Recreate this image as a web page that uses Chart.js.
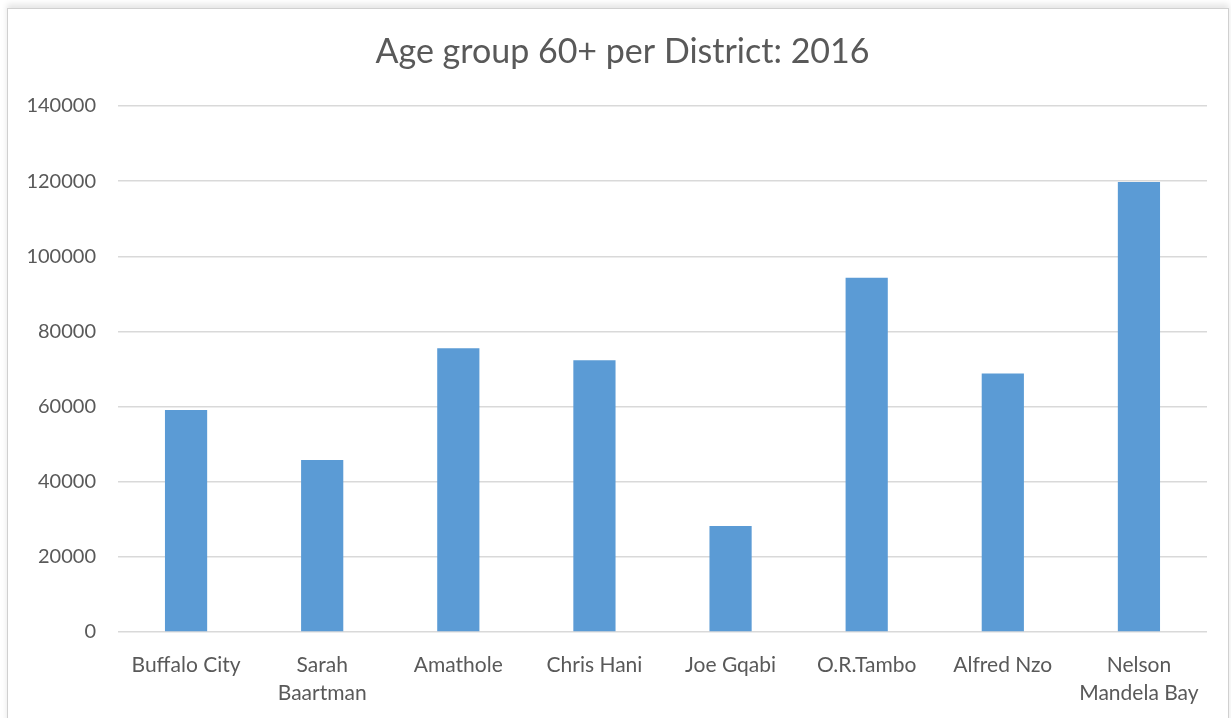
<!DOCTYPE html>
<html>
<head>
<meta charset="utf-8">
<script src="https://cdn.jsdelivr.net/npm/chart.js@4/dist/chart.umd.min.js"></script>
<style>
  html, body { margin: 0; padding: 0; background: #fff; }
  body { width: 1231px; height: 718px; position: relative; overflow: hidden; }
  .frame {
    position: absolute; left: 7px; top: 8px; width: 1220px; height: 720px;
    border: 1px solid #d0d0d0; box-shadow: 0 -4px 6px #e6e6e6;
  }
  #chart { position: absolute; left: 0; top: 0; }
</style>
</head>
<body>
<div class="frame"></div>
<canvas id="chart" width="1231" height="718"></canvas>
<script>
const districts = [
  "Buffalo City", ["Sarah", "Baartman"], "Amathole", "Chris Hani",
  "Joe Gqabi", "O.R.Tambo", "Alfred Nzo", ["Nelson", "Mandela Bay"]
];
const population60plus = [59100, 45800, 75500, 72300, 28200, 94300, 68800, 119800];
const yTicks = [0, 20000, 40000, 60000, 80000, 100000, 120000, 140000];

const chartTitle = "Age group 60+ per District: 2016";
const textColor = "#595959";
const fontFamily = "Lato, 'Open Sans', sans-serif";

// title sits centred on the framed box, which is a little right of the canvas centre
const boxTitle = {
  id: "boxTitle",
  afterDraw(chart, args, opts) {
    const { ctx } = chart;
    ctx.save();
    ctx.font = `normal ${opts.size}px ${fontFamily}`;
    ctx.fillStyle = textColor;
    ctx.textAlign = "center";
    ctx.textBaseline = "middle";
    ctx.fillText(opts.text, chart.width / 2 + opts.shift, opts.middle);
    ctx.restore();
  },
};

new Chart(document.getElementById("chart"), {
  type: "bar",
  plugins: [boxTitle],
  data: {
    labels: districts,
    datasets: [{
      data: population60plus,
      backgroundColor: "#5B9BD5",
      borderWidth: 0,
      categoryPercentage: 1,
      barPercentage: 0.31,
    }],
  },
  options: {
    responsive: false,
    animation: false,
    layout: { padding: { top: 106, left: 0, right: 24, bottom: 0 } },
    plugins: {
      legend: { display: false },
      tooltip: { enabled: false },
      title: { display: false },
      boxTitle: { text: chartTitle, size: 34, middle: 52, shift: 7 },
    },
    scales: {
      x: {
        afterFit: scale => { scale.height = 86; },
        grid: { display: false },
        border: { display: false },
        ticks: {
          color: textColor,
          font: { family: fontFamily, size: 21, lineHeight: 1.3 },
          maxRotation: 0,
          autoSkip: false,
          padding: 12,
        },
      },
      y: {
        min: yTicks[0],
        max: yTicks[yTicks.length - 1],
        afterBuildTicks: scale => {
          scale.ticks = yTicks.map(v => ({ value: v }));
        },
        afterFit: scale => { scale.width = 118; },
        grid: { color: "#d9d9d9", lineWidth: 1.5, drawTicks: false },
        border: { display: false },
        ticks: {
          color: textColor,
          font: { family: fontFamily, size: 20 },
          padding: 22,
          callback: v => String(v),
        },
      },
    },
  },
});
</script>
</body>
</html>
